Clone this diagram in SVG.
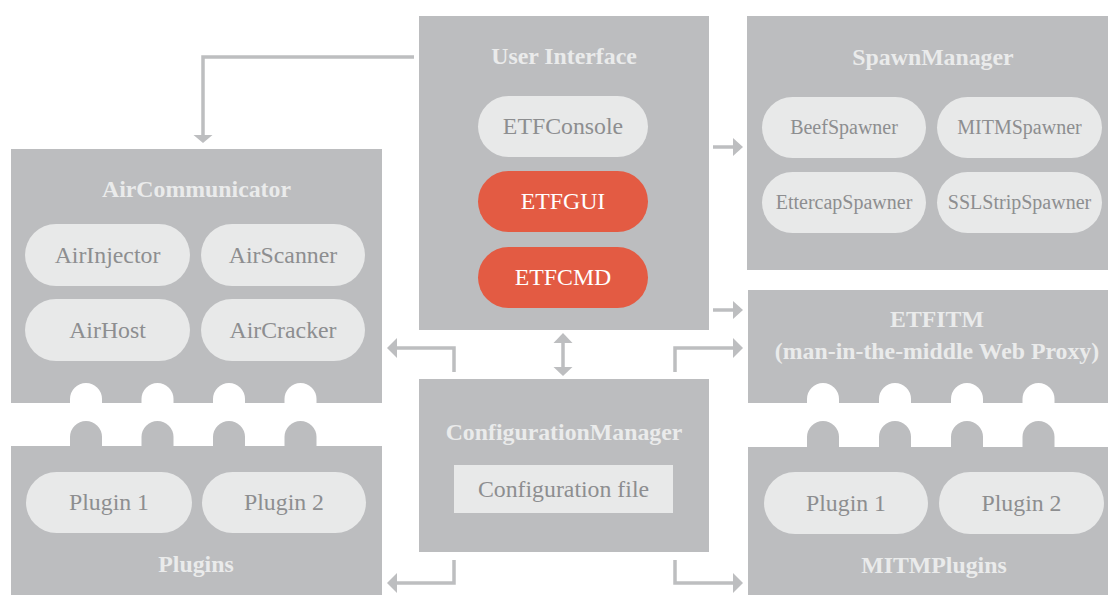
<svg xmlns="http://www.w3.org/2000/svg" width="1108" height="595" viewBox="0 0 1108 595">
  <style>
    .box { fill: #bcbdbf; }
    .pill { fill: #e8e9e9; }
    .hot { fill: #e35b43; }
    text { font-family: 'Liberation Serif', 'DejaVu Serif', serif; text-anchor: middle; }
    .title { font-weight: bold; font-size: 23.8px; fill: #eaebeb; }
    .lbl { font-size: 23.8px; fill: #8d8e90; }
    .lbl-s { font-size: 20px; fill: #8d8e90; }
    .lbl-w { font-size: 23.8px; fill: #ffffff; }
    .wire { fill: none; stroke: #bdbec0; stroke-width: 3.5; }
    .head { fill: #bdbec0; }
    .notch { fill: #ffffff; }
  </style>

  <rect width="1108" height="595" fill="#ffffff"/>

  <!-- User Interface -->
  <g id="user-interface">
    <rect class="box" x="419" y="16" width="290" height="314"/>
    <text class="title" x="564" y="64" font-family="Liberation Serif, serif">User Interface</text>
    <rect class="pill" x="478" y="96" width="170" height="61" rx="30.5"/>
    <text class="lbl" x="563" y="134" font-family="Liberation Serif, serif">ETFConsole</text>
    <rect class="hot" x="478" y="171" width="170" height="61" rx="30.5"/>
    <text class="lbl-w" x="563" y="209" font-family="Liberation Serif, serif">ETFGUI</text>
    <rect class="hot" x="478" y="247" width="170" height="61" rx="30.5"/>
    <text class="lbl-w" x="563" y="285" font-family="Liberation Serif, serif">ETFCMD</text>
  </g>

  <!-- SpawnManager -->
  <g id="spawn-manager">
    <rect class="box" x="747" y="16" width="361" height="254"/>
    <text class="title" x="933" y="65">SpawnManager</text>
    <rect class="pill" x="762" y="97" width="164" height="61" rx="30.5"/>
    <text class="lbl-s" x="844" y="134">BeefSpawner</text>
    <rect class="pill" x="937" y="97" width="165" height="61" rx="30.5"/>
    <text class="lbl-s" x="1019.5" y="134">MITMSpawner</text>
    <rect class="pill" x="762" y="172" width="164" height="61" rx="30.5"/>
    <text class="lbl-s" x="844" y="209">EttercapSpawner</text>
    <rect class="pill" x="937" y="172" width="165" height="61" rx="30.5"/>
    <text class="lbl-s" x="1019.5" y="209">SSLStripSpawner</text>
  </g>

  <!-- AirCommunicator -->
  <g id="air-communicator">
    <rect class="box" x="11" y="149" width="371" height="254"/>
    <text class="title" x="196.5" y="197">AirCommunicator</text>
    <rect class="pill" x="25" y="224" width="165" height="62" rx="31"/>
    <text class="lbl" x="107.5" y="263">AirInjector</text>
    <rect class="pill" x="201" y="224" width="164" height="62" rx="31"/>
    <text class="lbl" x="283" y="263">AirScanner</text>
    <rect class="pill" x="25" y="299" width="165" height="62" rx="31"/>
    <text class="lbl" x="107.5" y="338">AirHost</text>
    <rect class="pill" x="201" y="299" width="164" height="62" rx="31"/>
    <text class="lbl" x="283" y="338">AirCracker</text>
    <!-- socket notches along the bottom edge -->
    <path class="notch" d="M70 404 V399 A16 16 0 0 1 102 399 V404 Z"/>
    <path class="notch" d="M141.5 404 V399 A16 16 0 0 1 173.5 399 V404 Z"/>
    <path class="notch" d="M213 404 V399 A16 16 0 0 1 245 399 V404 Z"/>
    <path class="notch" d="M284.5 404 V399 A16 16 0 0 1 316.5 399 V404 Z"/>
  </g>

  <!-- Plugins -->
  <g id="plugins">
    <rect class="box" x="11" y="446" width="371" height="149"/>
    <path class="box" d="M70 447 V437 A16 16 0 0 1 102 437 V447 Z"/>
    <path class="box" d="M141.5 447 V437 A16 16 0 0 1 173.5 437 V447 Z"/>
    <path class="box" d="M213 447 V437 A16 16 0 0 1 245 437 V447 Z"/>
    <path class="box" d="M284.5 447 V437 A16 16 0 0 1 316.5 437 V447 Z"/>
    <rect class="pill" x="26" y="472" width="166" height="61" rx="30.5"/>
    <text class="lbl" x="109" y="510">Plugin 1</text>
    <rect class="pill" x="202" y="472" width="164" height="61" rx="30.5"/>
    <text class="lbl" x="284" y="510">Plugin 2</text>
    <text class="title" x="196" y="572">Plugins</text>
  </g>

  <!-- ConfigurationManager -->
  <g id="configuration-manager">
    <rect class="box" x="419" y="379" width="290" height="173"/>
    <text class="title" x="564" y="440">ConfigurationManager</text>
    <rect class="pill" x="454" y="465" width="219" height="48"/>
    <text class="lbl" x="563.5" y="497">Configuration file</text>
  </g>

  <!-- ETFITM -->
  <g id="etfitm">
    <rect class="box" x="748" y="290" width="360" height="113"/>
    <text class="title" x="937" y="327">ETFITM</text>
    <text class="title" x="937" y="359">(man-in-the-middle Web Proxy)</text>
    <path class="notch" d="M807 404 V399 A16 16 0 0 1 839 399 V404 Z"/>
    <path class="notch" d="M879 404 V399 A16 16 0 0 1 911 399 V404 Z"/>
    <path class="notch" d="M951 404 V399 A16 16 0 0 1 983 399 V404 Z"/>
    <path class="notch" d="M1022.5 404 V399 A16 16 0 0 1 1054.5 399 V404 Z"/>
  </g>

  <!-- MITMPlugins -->
  <g id="mitm-plugins">
    <rect class="box" x="748" y="447" width="360" height="148"/>
    <path class="box" d="M807 448 V437 A16 16 0 0 1 839 437 V448 Z"/>
    <path class="box" d="M879 448 V437 A16 16 0 0 1 911 437 V448 Z"/>
    <path class="box" d="M951 448 V437 A16 16 0 0 1 983 437 V448 Z"/>
    <path class="box" d="M1022.5 448 V437 A16 16 0 0 1 1054.5 437 V448 Z"/>
    <rect class="pill" x="764" y="472" width="164" height="62" rx="31"/>
    <text class="lbl" x="846" y="511">Plugin 1</text>
    <rect class="pill" x="939" y="472" width="165" height="62" rx="31"/>
    <text class="lbl" x="1021.5" y="511">Plugin 2</text>
    <text class="title" x="934" y="573">MITMPlugins</text>
  </g>

  <!-- Connectors -->
  <g id="connectors">
    <!-- User Interface -> AirCommunicator -->
    <path class="wire" d="M414 57 H203 V136"/>
    <path class="head" d="M193.5 135 H212.5 L203 143 Z"/>

    <!-- User Interface -> SpawnManager -->
    <path class="wire" d="M713 147 H734"/>
    <path class="head" d="M733 138 V156 L743 147 Z"/>

    <!-- User Interface -> ETFITM -->
    <path class="wire" d="M713 310 H734"/>
    <path class="head" d="M733 301 V319 L743 310 Z"/>

    <!-- User Interface <-> ConfigurationManager -->
    <path class="wire" d="M563 342 V368"/>
    <path class="head" d="M553.5 343 H572.5 L563 333 Z"/>
    <path class="head" d="M553.5 367 H572.5 L563 376 Z"/>

    <!-- ConfigurationManager -> AirCommunicator -->
    <path class="wire" d="M454 372 V348 H396"/>
    <path class="head" d="M397 338 V358 L387 348 Z"/>

    <!-- ConfigurationManager -> ETFITM -->
    <path class="wire" d="M675 372 V348 H734"/>
    <path class="head" d="M733 338 V358 L743 348 Z"/>

    <!-- ConfigurationManager -> Plugins -->
    <path class="wire" d="M454 560 V583 H396"/>
    <path class="head" d="M397 573 V593 L387 583 Z"/>

    <!-- ConfigurationManager -> MITMPlugins -->
    <path class="wire" d="M675 560 V583 H734"/>
    <path class="head" d="M733 573 V593 L743 583 Z"/>
  </g>
</svg>
